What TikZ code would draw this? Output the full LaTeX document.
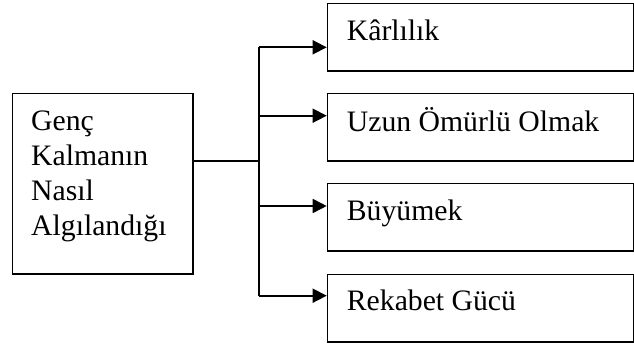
\documentclass[tikz,border=0pt]{standalone}
\usepackage{fontspec}
\setmainfont{Liberation Serif}
\usetikzlibrary{arrows.meta}
\begin{document}
\begin{tikzpicture}[x=1pt,y=-1pt,
  boxst/.style={draw, line width=1.7pt, inner sep=0pt, anchor=north west},
  txt/.style={anchor=base west, inner sep=0pt, font=\fontsize{29.7}{35}\selectfont},
  conn/.style={line width=1.7pt},
  arr/.style={line width=1.7pt, -{Triangle[length=14pt,width=14pt]}}]
\useasboundingbox (0,0) rectangle (634,345);
% left box
\node[boxst, minimum width=180.3pt, minimum height=180.3pt] (lb) at (11.7,92.7) {};
\node[anchor=base west, inner sep=0pt] (lt) at (31,130)
  {\parbox[t]{160pt}{\fontsize{29.7}{35}\selectfont Genç\\Kalmanın\\Nasıl\\Algılandığı}};
% right boxes
\node[boxst, minimum width=305.8pt, minimum height=67.3pt] (b1) at (326.7,2.7) {};
\node[boxst, minimum width=305.8pt, minimum height=67.3pt] (b2) at (326.7,92.7) {};
\node[boxst, minimum width=305.8pt, minimum height=67.3pt] (b3) at (326.7,182.7) {};
\node[boxst, minimum width=305.8pt, minimum height=67.3pt] (b4) at (326.7,273.5) {};
\node[txt] (t1) at (346.7,41) {Kârlılık};
\node[txt] (t2) at (346.7,131.5) {Uzun Ömürlü Olmak};
\node[txt] (t3) at (346.7,220) {Büyümek};
\node[txt] (t4) at (346.7,310.5) {Rekabet Gücü};
% connectors
\coordinate (j) at (259.3,160.7);
\coordinate (r1) at (259.3,47.3);
\coordinate (r2) at (259.3,115.7);
\coordinate (r3) at (259.3,206);
\coordinate (r4) at (259.3,295.7);
\draw[conn] (lb.east |- j) -- (j);
\draw[conn] (r1) -- (r4);
\draw[arr] (r1) -- (b1.west |- r1);
\draw[arr] (r2) -- (b2.west |- r2);
\draw[arr] (r3) -- (b3.west |- r3);
\draw[arr] (r4) -- (b4.west |- r4);
\end{tikzpicture}
\end{document}
